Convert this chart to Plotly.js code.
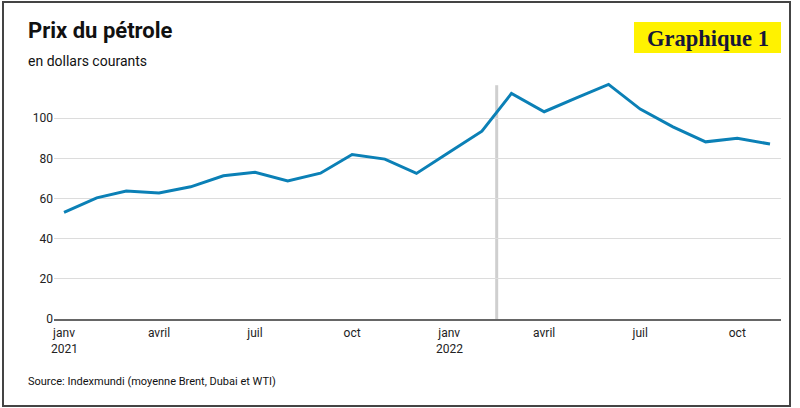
<!DOCTYPE html>
<html>
<head>
<meta charset="utf-8">
<script src="https://cdn.plot.ly/plotly-3.0.1.min.js"></script>
<style>
html,body{margin:0;padding:0;background:#fff;}
#chart{width:800px;height:408px;}
</style>
</head>
<body>
<div id="chart"></div>
<script>
const months = ["2021-01-01","2021-02-01","2021-03-01","2021-04-01","2021-05-01","2021-06-01",
  "2021-07-01","2021-08-01","2021-09-01","2021-10-01","2021-11-01","2021-12-01",
  "2022-01-01","2022-02-01","2022-03-01","2022-04-01","2022-05-01","2022-06-01",
  "2022-07-01","2022-08-01","2022-09-01","2022-10-01","2022-11-01"];
const prices = [53.1,60.3,63.7,62.7,65.8,71.3,73.0,68.7,72.6,81.9,79.6,72.5,
  83.0,93.5,112.3,103.2,110.0,116.8,104.5,95.7,88.2,90.0,87.1];
const tickDates = ["2021-01-01","2021-04-01","2021-07-01","2021-10-01","2022-01-01","2022-04-01","2022-07-01","2022-10-01"];
const tickLabels = ["janv","avril","juil","oct","janv","avril","juil","oct"];
const yearDates = ["2021-01-01","2022-01-01"];
const yearLabels = ["2021","2022"];
const yTicks = [0,20,40,60,80,100];
const markerDate = "2022-02-15";
const markerTop = 116.4;

const L = 54, R = 781, T = 82, B = 319;
const W = R - L, H = B - T;
const px = v => (v - L) / W;
const py = v => (B - v) / H;

const trace = {
  x: months, y: prices, type: "scatter", mode: "lines",
  line: {color: "#0b80b6", width: 3}, cliponaxis: false, hoverinfo: "x+y"
};

const annotations = [
  {xref: "paper", yref: "paper", x: px(26), y: py(30), xanchor: "left", yanchor: "middle",
   text: "<b>Prix du pétrole</b>", showarrow: false, font: {size: 22, color: "#111"}},
  {xref: "paper", yref: "paper", x: px(26), y: py(61), xanchor: "left", yanchor: "middle",
   text: "en dollars courants", showarrow: false, font: {size: 14, color: "#111"}},
  {xref: "paper", yref: "paper", x: px(707.5), y: py(38), xanchor: "center", yanchor: "middle",
   text: "<b>Graphique 1</b>", showarrow: false,
   font: {family: "Liberation Serif, Times New Roman, serif", size: 22.5, color: "#16163a"}},
  {xref: "paper", yref: "paper", x: px(26), y: py(381), xanchor: "left", yanchor: "middle",
   text: "Source: Indexmundi (moyenne Brent, Dubai et WTI)", showarrow: false,
   font: {size: 11, color: "#111"}}
];
yearDates.forEach((d, i) => annotations.push({
  xref: "x", yref: "paper", x: d, y: py(349), xanchor: "center", yanchor: "middle",
  text: yearLabels[i], showarrow: false, font: {size: 12, color: "#222"}
}));

const layout = {
  width: 800, height: 408,
  margin: {l: L, r: 800 - R, t: T, b: 408 - B},
  paper_bgcolor: "#fff", plot_bgcolor: "#fff",
  font: {family: "Roboto, sans-serif", color: "#222", size: 12},
  showlegend: false,
  xaxis: {
    type: "date",
    range: ["2020-12-22 12:00", "2022-11-11 10:00"],
    tickvals: tickDates, ticktext: tickLabels,
    showgrid: false, zeroline: false,
    showline: true, linecolor: "#666", linewidth: 1.5,
    ticks: "", ticklabelstandoff: 2, tickfont: {size: 12, color: "#222"}
  },
  yaxis: {
    range: [0, 118],
    tickvals: yTicks,
    showgrid: true, gridcolor: "#dcdcdc", gridwidth: 1,
    zeroline: false, showline: false, ticks: "",
    tickfont: {size: 12, color: "#222"}
  },
  shapes: [
    {type: "line", xref: "x", yref: "y", x0: markerDate, x1: markerDate, y0: 0, y1: markerTop,
     line: {color: "#cfcfcf", width: 3}, layer: "below"},
    {type: "rect", xref: "paper", yref: "paper", x0: px(634), x1: px(781), y0: py(53), y1: py(22),
     fillcolor: "#fff200", line: {width: 0}},
    {type: "rect", xref: "paper", yref: "paper", x0: px(3), x1: px(790), y0: py(406), y1: py(2),
     line: {color: "#444", width: 2}}
  ],
  annotations: annotations
};

Plotly.newPlot("chart", [trace], layout, {displayModeBar: false, staticPlot: true});
</script>
</body>
</html>
